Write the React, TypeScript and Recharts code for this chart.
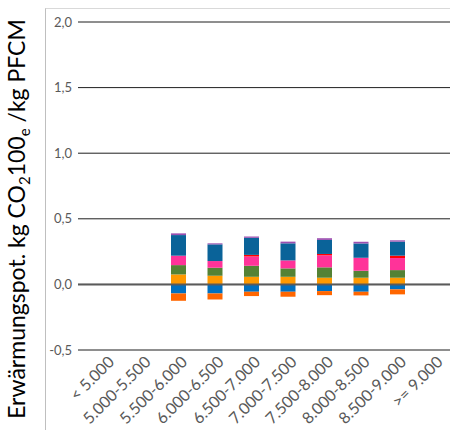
import { BarChart, Bar, XAxis, YAxis, CartesianGrid, ReferenceLine } from "recharts";

const categories = [
  "< 5.000",
  "5.000-5.500",
  "5.500-6.000",
  "6.000-6.500",
  "6.500-7.000",
  "7.000-7.500",
  "7.500-8.000",
  "8.000-8.500",
  "8.500-9.000",
  ">= 9.000",
];

// positive contributions, stacked bottom to top
const orange = [null, null, 0.076, 0.066, 0.058, 0.058, 0.051, 0.051, 0.051, null];
const green = [null, null, 0.071, 0.061, 0.084, 0.064, 0.079, 0.053, 0.058, null];
const pink = [null, null, 0.072, 0.051, 0.071, 0.061, 0.092, 0.099, 0.092, null];
const red = [null, null, 0, 0, 0.012, 0, 0.01, 0, 0.018, null];
const darkBlue = [null, null, 0.157, 0.127, 0.13, 0.13, 0.107, 0.109, 0.107, null];
const purple = [null, null, 0.013, 0.008, 0.01, 0.013, 0.013, 0.013, 0.01, null];
// negative contributions, stacked downward from zero
const negBlue = [null, null, -0.069, -0.069, -0.056, -0.056, -0.051, -0.056, -0.038, null];
const negOrange = [null, null, -0.056, -0.046, -0.033, -0.038, -0.031, -0.028, -0.038, null];

const yTicks = [-0.5, 0, 0.5, 1, 1.5, 2];

const series = [
  { key: "orange", values: orange, color: "#FF9900" },
  { key: "green", values: green, color: "#548235" },
  { key: "pink", values: pink, color: "#FF3399" },
  { key: "red", values: red, color: "#FF0000" },
  { key: "darkBlue", values: darkBlue, color: "#0A6399" },
  { key: "purple", values: purple, color: "#9B4FB0" },
  { key: "negBlue", values: negBlue, color: "#0070C0" },
  { key: "negOrange", values: negOrange, color: "#FF6600" },
];

const data = categories.map((name, i) => {
  const row: Record<string, string | number | null> = { name };
  series.forEach((s) => {
    row[s.key] = s.values[i];
  });
  return row;
});

const FONT = "Lato, 'Open Sans', sans-serif";

function XTick({ x, y, payload }: any) {
  const tx = x + 10;
  const ty = y + 5;
  return (
    <text
      x={tx}
      y={ty}
      transform={`rotate(-45, ${tx}, ${ty})`}
      textAnchor="end"
      fontSize={16}
      fill="#595959"
      fontFamily={FONT}
    >
      {payload.value}
    </text>
  );
}

function YLabel() {
  const x = 25;
  const y = 219;
  return (
    <text
      x={x}
      y={y}
      transform={`rotate(-90, ${x}, ${y})`}
      textAnchor="middle"
      fontSize={23}
      fill="#000"
      fontFamily={FONT}
    >
      Erwärmungspot. kg CO
      <tspan dy={5} fontSize={15}>2</tspan>
      <tspan dy={-5}>100</tspan>
      <tspan dy={5} fontSize={15}>e</tspan>
      <tspan dy={-5}> /kg PFCM</tspan>
    </text>
  );
}

export default function App() {
  return (
    <div
      style={{
        position: "absolute",
        left: 0,
        top: 0,
        width: 450,
        height: 430,
        overflow: "hidden",
        background: "#fff",
      }}
    >
      <div
        style={{
          position: "absolute",
          left: 45,
          top: 8,
          right: -2,
          bottom: -2,
          borderLeft: "1px solid #BFBFBF",
          borderTop: "1px solid #D9D9D9",
        }}
      />
      <div style={{ position: "absolute", left: 0, top: 0 }}>
        <BarChart
          width={452}
          height={430}
          data={data}
          stackOffset="sign"
          barSize={15}
          margin={{ top: 22, right: 0, bottom: 10, left: 0 }}
        >
          <CartesianGrid vertical={false} stroke="#1f1f1f" />
          <XAxis
            dataKey="name"
            height={70}
            axisLine={false}
            tickLine={false}
            interval={0}
            padding={{ left: 9, right: 0 }}
            tick={<XTick />}
          />
          <YAxis
            width={78}
            domain={[-0.5, 2]}
            ticks={yTicks}
            axisLine={false}
            tickLine={false}
            tickMargin={0}
            tickFormatter={(v: number) => v.toFixed(1).replace(".", ",")}
            tick={{ fontSize: 13, fill: "#595959", fontFamily: FONT }}
            label={<YLabel />}
          />
          {series.map((s) => (
            <Bar
              key={s.key}
              dataKey={s.key}
              stackId="a"
              fill={s.color}
              isAnimationActive={false}
            />
          ))}
          <ReferenceLine y={0} stroke="#5a5a5a" strokeWidth={2} />
        </BarChart>
      </div>
    </div>
  );
}
